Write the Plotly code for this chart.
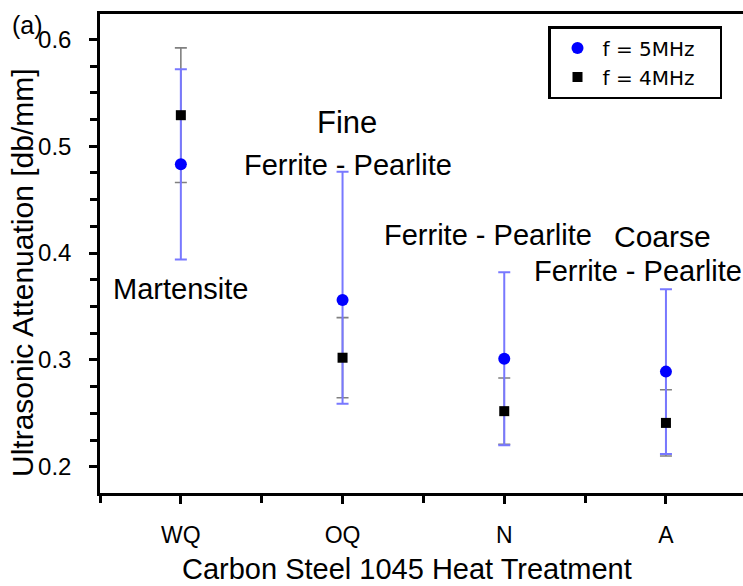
import plotly.graph_objects as go

# Heat treatments of carbon steel 1045 and measured attenuation (dB/mm)
treatments = ["WQ", "OQ", "N", "A"]
att_5mhz = [0.483, 0.356, 0.301, 0.289]
err_5mhz_up = [0.089, 0.120, 0.081, 0.077]
err_5mhz_down = [0.089, 0.097, 0.081, 0.077]
att_4mhz = [0.529, 0.302, 0.252, 0.241]
err_4mhz = [0.063, 0.0375, 0.031, 0.031]

# Microstructure labels: (text, category position, attenuation level, font size)
structure_labels = [
    ("Martensite", 0.0, 0.3663, 29),
    ("Fine", 1.028, 0.5217, 31),
    ("Ferrite - Pearlite", 1.031, 0.4824, 29),
    ("Ferrite - Pearlite", 1.897, 0.4168, 29),
    ("Coarse", 2.977, 0.4159, 30),
    ("Ferrite - Pearlite", 2.828, 0.3832, 29),
]

FONT = "Liberation Sans, Arial, sans-serif"
xpos = list(range(len(treatments)))

W, H = 743, 586
L, R, T, B = 100, 0, 14, 93
pw, ph = W - L - R, H - T - B


def px_to_paper(px, py):
    return (px - L) / pw, 1 - (py - T) / ph


fig = go.Figure()

# error bars first, so the markers sit on top of them
fig.add_trace(go.Scatter(
    x=xpos, y=att_4mhz, mode="markers", showlegend=False, hoverinfo="skip",
    marker=dict(size=1, color="rgba(0,0,0,0)"),
    error_y=dict(type="data", array=err_4mhz, color="#808080", thickness=1.6, width=6),
))
fig.add_trace(go.Scatter(
    x=xpos, y=att_5mhz, mode="markers", showlegend=False, hoverinfo="skip",
    marker=dict(size=1, color="rgba(0,0,0,0)"),
    error_y=dict(type="data", symmetric=False, array=err_5mhz_up,
                 arrayminus=err_5mhz_down, color="#7878ff", thickness=2, width=6),
))

# legend entries get a little trailing room, like a framed key
pad = "\u00a0\u00a0\u00a0"
fig.add_trace(go.Scatter(
    x=xpos, y=att_5mhz, mode="markers", name="f = 5MHz" + pad,
    marker=dict(symbol="circle", size=12, color="#0000ff"),
))
fig.add_trace(go.Scatter(
    x=xpos, y=att_4mhz, mode="markers", name="f = 4MHz" + pad,
    marker=dict(symbol="square", size=10, color="#000000"),
))

for text, xv, yv, size in structure_labels:
    fig.add_annotation(x=xv, y=yv, xref="x", yref="y", text=text, showarrow=False,
                       xanchor="center", yanchor="middle",
                       font=dict(family=FONT, size=size, color="#000000"))

# panel letter and axis titles, placed in pixel terms
for text, px, py, size, angle in [
    ("(a)", 27, 25, 25, 0),
    ("Carbon Steel 1045 Heat Treatment", 407, 569, 29, 0),
    ("Ultrasonic Attenuation [db/mm]", 22, 273, 30, -90),
]:
    ax, ay = px_to_paper(px, py)
    fig.add_annotation(x=ax, y=ay, xref="paper", yref="paper", text=text,
                       textangle=angle, showarrow=False,
                       xanchor="center", yanchor="middle",
                       font=dict(family=FONT, size=size, color="#000000"))

lx, ly = px_to_paper(548, 26)
fig.update_layout(
    width=W, height=H,
    margin=dict(l=L, r=R, t=T, b=B, pad=0),
    paper_bgcolor="#ffffff", plot_bgcolor="#ffffff",
    font=dict(family=FONT, color="#000000"),
    showlegend=True,
    legend=dict(
        x=lx, y=ly, xanchor="left", yanchor="top",
        bgcolor="#ffffff", bordercolor="#000000", borderwidth=2.5,
        font=dict(family="DejaVu Sans, sans-serif", size=20, color="#000000"),
        itemwidth=40, indentation=2, tracegroupgap=0,
    ),
)

fig.update_xaxes(
    range=[-0.5, -0.5 + pw / 161.7],
    tickmode="array", tickvals=xpos, ticktext=treatments,
    tickfont=dict(family=FONT, size=23, color="#000000"),
    ticks="outside", ticklen=8, tickwidth=2.5, tickcolor="#000000",
    ticklabelstandoff=12,
    minor=dict(tick0=0.5, dtick=1, ticks="outside", ticklen=7, tickwidth=2.5, tickcolor="#000000"),
    showline=True, linecolor="#000000", linewidth=2.5, mirror=True,
    showgrid=False, zeroline=False,
)
fig.update_yaxes(
    range=[0.1754, 0.6237],
    tickmode="linear", tick0=0.2, dtick=0.1, tickformat=".1f",
    tickfont=dict(family=FONT, size=24, color="#000000"),
    ticks="outside", ticklen=8, tickwidth=2.5, tickcolor="#000000",
    ticklabelstandoff=13,
    minor=dict(tick0=0.2, dtick=0.025, ticks="outside", ticklen=7, tickwidth=2.5, tickcolor="#000000"),
    showline=True, linecolor="#000000", linewidth=2.5,
    showgrid=False, zeroline=False,
)

fig.write_html("out.html")
